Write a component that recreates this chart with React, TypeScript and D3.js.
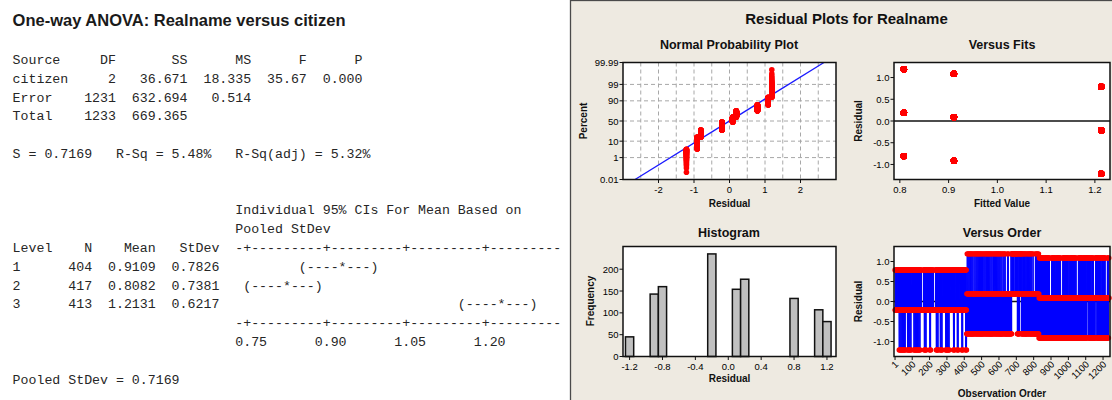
import React, { useMemo } from "react";
import * as d3 from "d3";

const W = 1112;
const H = 400;

// ---------- One-way ANOVA session output ----------
const anovaSources = ["citizen", "Error", "Total"];
const anovaDF = ["2", "1231", "1233"];
const anovaSS = ["36.671", "632.694", "669.365"];
const anovaMS = ["18.335", "0.514", ""];
const anovaF = ["35.67", "", ""];
const anovaP = ["0.000", "", ""];
const fitS = "0.7169";
const fitRSq = "5.48%";
const fitRSqAdj = "5.32%";

const levelNames = ["1", "2", "3"];
const levelN = [404, 417, 413];
const levelMean = [0.9109, 0.8082, 1.2131];
const levelStDev = [0.7826, 0.7381, 0.6217];
const pooledStDev = 0.7169;
const ciAxisTicks = [0.75, 0.9, 1.05, 1.2];

// ---------- Realname responses in worksheet order ----------
// Run-length coded: each entry is [response pattern, number of repeats].
// Level 3 rows come first, then level 2, then level 1.
const runsLevel3: [string, number][] = [
  ["2111", 5], ["21210", 8], ["2111", 2], ["21210", 5], ["2111", 3], ["21210", 8],
  ["2111", 3], ["1", 8], ["21210", 3], ["2111", 4], ["21210", 2], ["2111", 5],
  ["1", 8], ["21210", 3], ["2111", 2], ["21210", 3], ["2111", 4], ["21210", 5],
  ["2111", 5], ["21210", 2], ["2111", 3], ["21210", 2], ["2111", 4], ["21210", 2],
  ["2111", 3], ["21210", 2],
];
const runsLevel2: [string, number][] = [
  ["01021", 4], ["010201", 3], ["011021", 3],
  ["01021", 4], ["010201", 3], ["011021", 3],
  ["01021", 4], ["010201", 3], ["011021", 3],
  ["01021", 4], ["010201", 3], ["011021", 3],
  ["01", 4], ["01021", 2], ["01", 5], ["01021", 2],
  ["12", 6], ["1", 6], ["12", 6], ["01021", 3], ["12", 4],
  ["01021", 4], ["010201", 2], ["011021", 1], ["01021", 4], ["010201", 1], ["011021", 1],
  ["01", 4], ["010201", 4],
];
const runsLevel1: [string, number][] = [
  ["012", 8], ["01201", 2], ["012", 8], ["01201", 1], ["01", 4],
  ["012", 6], ["01201", 2], ["012", 6], ["01201", 2], ["01", 4],
  ["012", 10], ["01201", 3], ["012", 9], ["01201", 2], ["01", 4],
  ["012", 6], ["01201", 2], ["012", 5], ["01201", 2], ["12", 4],
  ["012", 1], ["01201", 3], ["012", 1], ["01201", 2], ["01", 4], ["12", 4],
  ["012", 6], ["01201", 2], ["012", 6], ["01201", 1], ["01", 4],
  ["0121", 3],
];
const worksheetBlocks = [
  { level: 3, runs: runsLevel3 },
  { level: 2, runs: runsLevel2 },
  { level: 1, runs: runsLevel1 },
];

// Residual plot axes
const nppPercentTicks = [99.99, 99, 90, 50, 10, 1, 0.01];
const nppPercentLabels = ["99.99", "99", "90", "50", "10", "1", "0.01"];
const nppGridPercents = [99, 90, 50, 10, 1];
const nppResidualTicks = [-2, -1, 0, 1, 2];
const nppResidualGrid = [-2.5, -2, -1.5, -1, -0.5, 0, 0.5, 1, 1.5, 2, 2.5];
const fitsXTicks = [0.8, 0.9, 1.0, 1.1, 1.2];
const residualTicks = [1.0, 0.5, 0.0, -0.5, -1.0];
const histXTicks = [-1.2, -0.8, -0.4, 0.0, 0.4, 0.8, 1.2];
const histYTicks = [0, 50, 100, 150, 200];
const orderTicks = [1, 100, 200, 300, 400, 500, 600, 700, 800, 900, 1000, 1100, 1200];

// ---------- helpers ----------
const MONO = "'Liberation Mono', 'DejaVu Sans Mono', monospace";
const SANS = "'Liberation Sans', Arial, sans-serif";
const MONO_SIZE = 13.25;
const TEXT_X = 12.6;
const LINE_Y0 = 60.5;
const LINE_H = 18.8;

const rightAt = (line: string, endCol: number, s: string) => line.padEnd(endCol - s.length) + s;
const placeAt = (line: string, col: number, s: string) => line.padEnd(col) + s;

// inverse standard normal CDF (Acklam)
function probit(p: number): number {
  const a = [-3.969683028665376e1, 2.209460984245205e2, -2.759285104469687e2, 1.38357751867269e2, -3.066479806614716e1, 2.506628277459239];
  const b = [-5.447609879822406e1, 1.615858368580409e2, -1.556989798598866e2, 6.680131188771972e1, -1.328068155833038e1];
  const c = [-7.784894002430293e-3, -3.223964580411365e-1, -2.400758277161838, -2.549732539343734, 4.374664141464968, 2.938163982698783];
  const d = [7.784695709041462e-3, 3.224671290700398e-1, 2.445134137142996, 3.754408661907416];
  const pl = 0.02425;
  if (p < pl) {
    const q = Math.sqrt(-2 * Math.log(p));
    return (((((c[0] * q + c[1]) * q + c[2]) * q + c[3]) * q + c[4]) * q + c[5]) / ((((d[0] * q + d[1]) * q + d[2]) * q + d[3]) * q + 1);
  }
  if (p <= 1 - pl) {
    const q = p - 0.5;
    const r = q * q;
    return ((((((a[0] * r + a[1]) * r + a[2]) * r + a[3]) * r + a[4]) * r + a[5]) * q) / (((((b[0] * r + b[1]) * r + b[2]) * r + b[3]) * r + b[4]) * r + 1);
  }
  const q = Math.sqrt(-2 * Math.log(1 - p));
  return -(((((c[0] * q + c[1]) * q + c[2]) * q + c[3]) * q + c[4]) * q + c[5]) / ((((d[0] * q + d[1]) * q + d[2]) * q + d[3]) * q + 1);
}

type Obs = { order: number; level: number; y: number; fit: number; res: number };

function buildObservations(): Obs[] {
  const rows: { level: number; y: number }[] = [];
  worksheetBlocks.forEach((blk) => {
    blk.runs.forEach(([pat, rep]) => {
      for (let k = 0; k < rep; k++) for (const ch of pat) rows.push({ level: blk.level, y: +ch });
    });
  });
  const means = d3.rollup(rows, (v) => d3.mean(v, (r) => r.y) as number, (r) => r.level);
  return rows.map((r, i) => {
    const fit = means.get(r.level) as number;
    return { order: i + 1, level: r.level, y: r.y, fit, res: r.y - fit };
  });
}

function buildSessionLines(): { i: number; text: string }[] {
  const lines: { i: number; text: string }[] = [];
  const ends = [13, 22, 30, 37, 44];
  let h = "Source";
  ["DF", "SS", "MS", "F", "P"].forEach((s, k) => (h = rightAt(h, ends[k], s)));
  lines.push({ i: 0, text: h });
  anovaSources.forEach((src, r) => {
    let l = src;
    [anovaDF[r], anovaSS[r], anovaMS[r], anovaF[r], anovaP[r]].forEach((s, k) => {
      if (s) l = rightAt(l, ends[k], s);
    });
    lines.push({ i: 1 + r, text: l });
  });
  lines.push({ i: 5, text: `S = ${fitS}   R-Sq = ${fitRSq}   R-Sq(adj) = ${fitRSqAdj}` });

  // character-plot scale: axis '+' marks and interval characters
  const axisCol = d3.scaleLinear().domain([0.75, 1.2]).range([29, 59]);
  const ciCol = (v: number) => Math.round(axisCol(v)) + 1;
  const axisChars = Array(41).fill("-");
  ciAxisTicks.forEach((t) => (axisChars[Math.round(axisCol(t)) - 28] = "+"));
  const axisStr = axisChars.join("");
  let tickLine = "";
  ciAxisTicks.forEach((t) => (tickLine = placeAt(tickLine, Math.round(axisCol(t)) - 1, t.toFixed(2))));

  lines.push({ i: 8, text: placeAt("", 28, "Individual 95% CIs For Mean Based on") });
  lines.push({ i: 9, text: placeAt("", 28, "Pooled StDev") });
  let lh = "Level";
  lh = rightAt(lh, 10, "N");
  lh = rightAt(lh, 18, "Mean");
  lh = rightAt(lh, 26, "StDev");
  lines.push({ i: 10, text: placeAt(lh, 28, axisStr) });
  levelNames.forEach((nm, r) => {
    let l = nm;
    l = rightAt(l, 10, String(levelN[r]));
    l = rightAt(l, 18, levelMean[r].toFixed(4));
    l = rightAt(l, 26, levelStDev[r].toFixed(4));
    const half = (1.962 * pooledStDev) / Math.sqrt(levelN[r]);
    const lo = ciCol(levelMean[r] - half);
    const mid = ciCol(levelMean[r]);
    const hi = ciCol(levelMean[r] + half);
    const ci = "(" + "-".repeat(mid - lo - 1) + "*" + "-".repeat(hi - mid - 1) + ")";
    lines.push({ i: 11 + r, text: placeAt(l, lo, ci) });
  });
  lines.push({ i: 14, text: placeAt("", 28, axisStr) });
  lines.push({ i: 15, text: tickLine });
  lines.push({ i: 17, text: `Pooled StDev = ${pooledStDev.toFixed(4)}` });
  return lines;
}

type Box = { x0: number; x1: number; y0: number; y1: number };
const nppBox: Box = { x0: 623, x1: 836, y0: 62.5, y1: 179.5 };
const fitsBox: Box = { x0: 894, x1: 1110, y0: 62.5, y1: 179.5 };
const histBox: Box = { x0: 623, x1: 836, y0: 246.5, y1: 356.5 };
const orderBox: Box = { x0: 894, x1: 1110, y0: 246.5, y1: 356.5 };

const INK = "#111";
const TICK_FS = 9.5;
const TITLE_FS = 10;

function FrameBg({ b }: { b: Box }) {
  return <rect x={b.x0} y={b.y0} width={b.x1 - b.x0} height={b.y1 - b.y0} fill="#fff" />;
}
function FrameLine({ b }: { b: Box }) {
  return <rect x={b.x0} y={b.y0} width={b.x1 - b.x0} height={b.y1 - b.y0} fill="none" stroke={INK} strokeWidth={1.5} />;
}
function LeftAxis({ b, ticks, labels, scale }: { b: Box; ticks: number[]; labels: string[]; scale: (v: number) => number }) {
  return (
    <g>
      {ticks.map((t, k) => (
        <g key={k}>
          <line x1={b.x0 - 3.5} x2={b.x0} y1={scale(t)} y2={scale(t)} stroke={INK} strokeWidth={1} />
          <text x={b.x0 - 4.5} y={scale(t)} textAnchor="end" dominantBaseline="central" fontSize={TICK_FS} fontFamily={SANS} fill="#000">
            {labels[k]}
          </text>
        </g>
      ))}
    </g>
  );
}
function BottomAxis({ b, ticks, labels, scale }: { b: Box; ticks: number[]; labels: string[]; scale: (v: number) => number }) {
  return (
    <g>
      {ticks.map((t, k) => (
        <g key={k}>
          <line x1={scale(t)} x2={scale(t)} y1={b.y1} y2={b.y1 + 3.5} stroke={INK} strokeWidth={1} />
          <text x={scale(t)} y={b.y1 + 10} textAnchor="middle" dominantBaseline="central" fontSize={TICK_FS} fontFamily={SANS} fill="#000">
            {labels[k]}
          </text>
        </g>
      ))}
    </g>
  );
}
function AxisTitle({ x, y, text, rotate }: { x: number; y: number; text: string; rotate?: boolean }) {
  return (
    <text
      transform={`translate(${x},${y})${rotate ? " rotate(-90)" : ""}`}
      textAnchor="middle"
      dominantBaseline="central"
      fontSize={TITLE_FS}
      fontWeight="bold"
      fontFamily={SANS}
      fill="#111"
    >
      {text}
    </text>
  );
}
function PlotTitle({ x, y, text }: { x: number; y: number; text: string }) {
  return (
    <text x={x} y={y} textAnchor="middle" dominantBaseline="central" fontSize={12.5} fontWeight="bold" fontFamily={SANS} fill="#111">
      {text}
    </text>
  );
}

export default function App() {
  const obs = useMemo(buildObservations, []);
  const session = useMemo(buildSessionLines, []);

  // Normal probability plot
  const n = obs.length;
  const sorted = obs.map((o) => o.res).sort((a, b) => a - b);
  const zMin = probit(0.0001);
  const zMax = probit(0.9999);
  const nppX = d3.scaleLinear().domain([-3, 3]).range([nppBox.x0, nppBox.x1]);
  const nppY = d3.scaleLinear().domain([zMin, zMax]).range([nppBox.y1, nppBox.y0]);
  const nppPts = sorted.map((r, i) => ({ r, z: probit((i + 1 - 0.3) / (n + 0.4)) }));
  const resMean = d3.mean(sorted) as number;
  const resSd = d3.deviation(sorted) as number;
  const fitLine = d3.line<number>().x((z) => nppX(resMean + resSd * z)).y((z) => nppY(z))([zMin, zMax]) as string;

  // Versus fits
  const fitsX = d3.scaleLinear().domain([0.788, 1.231]).range([fitsBox.x0, fitsBox.x1]);
  const fitsY = d3.scaleLinear().domain([-1.346, 1.346]).range([fitsBox.y1, fitsBox.y0]);

  // Histogram
  const histX = d3.scaleLinear().domain([-1.28, 1.31]).range([histBox.x0, histBox.x1]);
  const histY = d3.scaleLinear().domain([0, 252]).range([histBox.y1, histBox.y0]);
  const edges = d3.range(-25, 27, 2).map((k) => k / 20);
  const bins = d3
    .bin<number, number>()
    .domain([edges[0], edges[edges.length - 1]])
    .thresholds(edges)(obs.map((o) => o.res))
    .filter((b) => b.length > 0);

  // Versus order
  const ordX = d3.scaleLinear().domain([-5, 1240]).range([orderBox.x0, orderBox.x1]);
  const ordY = d3.scaleLinear().domain([-1.375, 1.375]).range([orderBox.y1, orderBox.y0]);
  const ordPath = d3.line<Obs>().x((o) => ordX(o.order)).y((o) => ordY(o.res))(obs) as string;

  const resLabels = residualTicks.map((t) => t.toFixed(1));

  return (
    <div style={{ position: "absolute", left: 0, top: 0 }}>
      <svg width={W} height={H} viewBox={`0 0 ${W} ${H}`} style={{ display: "block" }}>
        <rect width={W} height={H} fill="#fff" />

        {/* Session window output */}
        <text x={TEXT_X} y={20} dominantBaseline="central" fontFamily={SANS} fontWeight="bold" fontSize={16.5} fill="#1a1a1a">
          One-way ANOVA: Realname versus citizen
        </text>
        {session.map((l) => (
          <text
            key={l.i}
            x={TEXT_X}
            y={LINE_Y0 + l.i * LINE_H}
            dominantBaseline="central"
            fontFamily={MONO}
            fontSize={MONO_SIZE}
            fill="#262626"
            xmlSpace="preserve"
            style={{ whiteSpace: "pre" }}
          >
            {l.text}
          </text>
        ))}

        {/* Graph window */}
        <rect x={570.5} y={0.5} width={W} height={H + 10} fill="#EEEAE1" stroke="#4a4a4a" strokeWidth={1.3} />
        <text x={846.5} y={18} textAnchor="middle" dominantBaseline="central" fontFamily={SANS} fontWeight="bold" fontSize={15} fill="#111">
          Residual Plots for Realname
        </text>

        {/* Normal probability plot */}
        <PlotTitle x={729} y={44.5} text="Normal Probability Plot" />
        <FrameBg b={nppBox} />
        <g stroke="#a8a8a8" strokeWidth={1} strokeDasharray="4,3">
          {nppResidualGrid.map((g) => (
            <line key={"v" + g} x1={nppX(g)} x2={nppX(g)} y1={nppBox.y0} y2={nppBox.y1} />
          ))}
          {nppGridPercents.map((p) => (
            <line key={"h" + p} x1={nppBox.x0} x2={nppBox.x1} y1={nppY(probit(p / 100))} y2={nppY(probit(p / 100))} />
          ))}
        </g>
        <path d={fitLine} stroke="#1a1aff" strokeWidth={1.3} fill="none" />
        <g fill="#ff0000">
          {nppPts.map((p, i) => (
            <circle key={i} cx={nppX(p.r)} cy={nppY(p.z)} r={2.8} />
          ))}
        </g>
        <FrameLine b={nppBox} />
        <LeftAxis b={nppBox} ticks={nppPercentTicks.map((p) => probit(p / 100))} labels={nppPercentLabels} scale={nppY} />
        <BottomAxis b={nppBox} ticks={nppResidualTicks} labels={nppResidualTicks.map(String)} scale={nppX} />
        <AxisTitle x={583} y={121} text="Percent" rotate />
        <AxisTitle x={729.5} y={203.5} text="Residual" />

        {/* Versus fits */}
        <PlotTitle x={1002} y={44.5} text="Versus Fits" />
        <FrameBg b={fitsBox} />
        <line x1={fitsBox.x0} x2={fitsBox.x1} y1={fitsY(0)} y2={fitsY(0)} stroke={INK} strokeWidth={1.3} />
        <g fill="#ff0000">
          {obs.map((o, i) => (
            <circle key={i} cx={fitsX(o.fit)} cy={fitsY(o.res)} r={3.2} />
          ))}
        </g>
        <FrameLine b={fitsBox} />
        <LeftAxis b={fitsBox} ticks={residualTicks} labels={resLabels} scale={fitsY} />
        <BottomAxis b={fitsBox} ticks={fitsXTicks} labels={fitsXTicks.map((t) => t.toFixed(1))} scale={fitsX} />
        <AxisTitle x={858} y={121} text="Residual" rotate />
        <AxisTitle x={1002} y={203.5} text="Fitted Value" />

        {/* Histogram */}
        <PlotTitle x={729} y={232.5} text="Histogram" />
        <FrameBg b={histBox} />
        <g fill="#c0c0c0" stroke={INK} strokeWidth={1.5}>
          {bins.map((b, i) => (
            <rect key={i} x={histX(b.x0 as number)} y={histY(b.length)} width={histX(b.x1 as number) - histX(b.x0 as number)} height={histY(0) - histY(b.length)} />
          ))}
        </g>
        <FrameLine b={histBox} />
        <LeftAxis b={histBox} ticks={histYTicks} labels={histYTicks.map(String)} scale={histY} />
        <BottomAxis b={histBox} ticks={histXTicks} labels={histXTicks.map((t) => t.toFixed(1))} scale={histX} />
        <AxisTitle x={590} y={301} text="Frequency" rotate />
        <AxisTitle x={729.5} y={378.5} text="Residual" />

        {/* Versus order */}
        <PlotTitle x={1002} y={232.5} text="Versus Order" />
        <FrameBg b={orderBox} />
        <line x1={orderBox.x0} x2={orderBox.x1} y1={ordY(0)} y2={ordY(0)} stroke={INK} strokeWidth={1.3} />
        <path d={ordPath} stroke="#0000ff" strokeWidth={1} fill="none" />
        <g fill="#ff0000">
          {obs.map((o, i) => (
            <circle key={i} cx={ordX(o.order)} cy={ordY(o.res)} r={2.7} />
          ))}
        </g>
        <FrameLine b={orderBox} />
        <LeftAxis b={orderBox} ticks={residualTicks} labels={resLabels} scale={ordY} />
        {orderTicks.map((t) => (
          <g key={t}>
            <line x1={ordX(t)} x2={ordX(t)} y1={orderBox.y1} y2={orderBox.y1 + 3.5} stroke={INK} strokeWidth={1} />
            <text
              transform={`translate(${ordX(t) + 1.5},${orderBox.y1 + 6}) rotate(-45)`}
              textAnchor="end"
              dominantBaseline="central"
              fontSize={TICK_FS}
              fontFamily={SANS}
              fill="#000"
            >
              {t}
            </text>
          </g>
        ))}
        <AxisTitle x={858} y={301.5} text="Residual" rotate />
        <AxisTitle x={1002} y={393} text="Observation Order" />
      </svg>
    </div>
  );
}
